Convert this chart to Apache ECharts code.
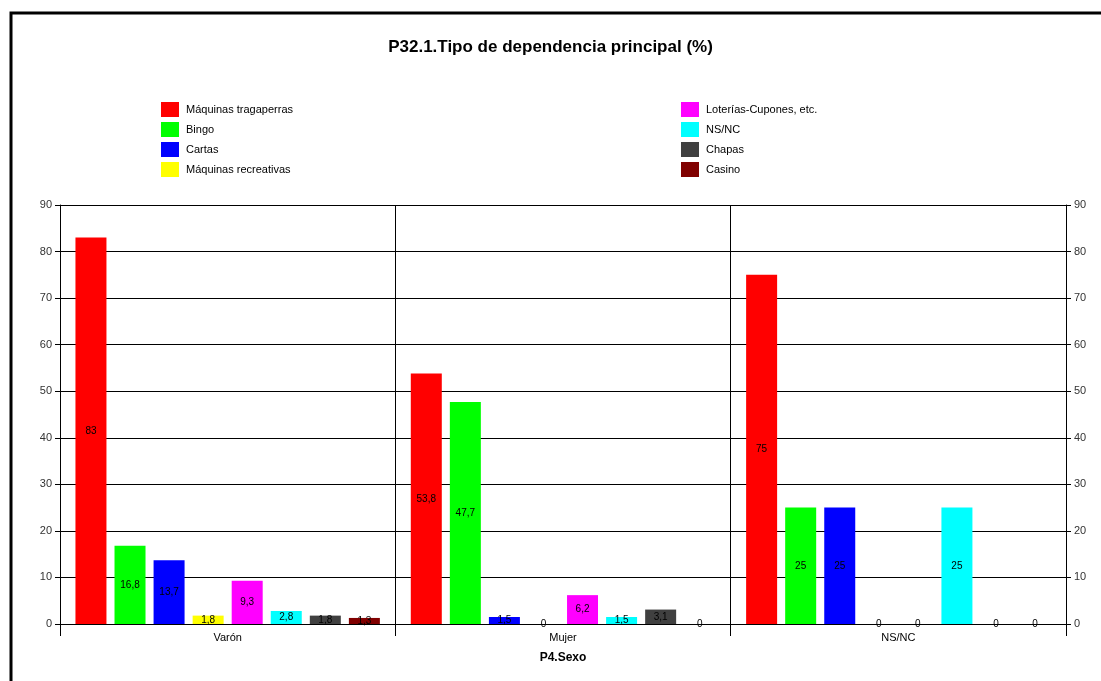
<!DOCTYPE html>
<html>
<head>
<meta charset="utf-8">
<script src="https://cdn.jsdelivr.net/npm/echarts@6/dist/echarts.min.js"></script>
<style>
  html, body { margin: 0; padding: 0; background: #fff; }
  #chart { width: 1101px; height: 681px; }
</style>
</head>
<body>
<div id="chart"></div>
<script>
// categorías (eje X)
const categories = ['Varón', 'Mujer', 'NS/NC'];

// series en el orden de la leyenda
const seriesNames = [
  'Máquinas tragaperras', 'Bingo', 'Cartas', 'Máquinas recreativas',
  'Loterías-Cupones, etc.', 'NS/NC', 'Chapas', 'Casino'
];
const tragaperras = [83, 53.8, 75];
const bingo = [16.8, 47.7, 25];
const cartas = [13.7, 1.5, 25];
const recreativas = [1.8, 0, 0];
const loterias = [9.3, 6.2, 0];
const nsnc = [2.8, 1.5, 25];
const chapas = [1.8, 3.1, 0];
const casino = [1.3, 0, 0];

const yTicks = [0, 10, 20, 30, 40, 50, 60, 70, 80, 90];

const seriesData = [tragaperras, bingo, cartas, recreativas, loterias, nsnc, chapas, casino];
const colors = ['#FF0000', '#00FF00', '#0000FF', '#FFFF00', '#FF00FF', '#00FFFF', '#404040', '#800000'];

const FONT = '"Liberation Sans", Arial, sans-serif';

const chart = echarts.init(document.getElementById('chart'));

const valueAxis = (pos) => ({
  type: 'value',
  position: pos,
  min: yTicks[0],
  max: yTicks[yTicks.length - 1],
  interval: 10,
  axisLine: { show: true, lineStyle: { color: '#000', width: 1 } },
  axisTick: { show: true, length: 5, lineStyle: { color: '#000' } },
  axisLabel: { color: '#333', fontSize: 11, fontFamily: FONT, margin: 8 },
  splitLine: { show: pos === 'left', lineStyle: { color: '#000', width: 1 } }
});

const legendBox = (names, left) => ({
  data: names,
  orient: 'vertical',
  left: left,
  top: 102,
  padding: 0,
  itemWidth: 18,
  itemHeight: 15,
  itemGap: 5,
  icon: 'rect',
  textStyle: { fontFamily: FONT, fontSize: 11, color: '#000', padding: [0, 0, 0, 2] }
});

const option = {
  animation: false,
  backgroundColor: '#fff',
  color: colors,
  title: {
    text: 'P32.1.Tipo de dependencia principal (%)',
    left: 'center',
    top: 34,
    textStyle: { fontFamily: FONT, fontSize: 17, fontWeight: 'bold', color: '#000' }
  },
  legend: [legendBox(seriesNames.slice(0, 4), 161), legendBox(seriesNames.slice(4), 681)],
  graphic: [
    {
      type: 'rect',
      shape: { x: 11, y: 13, width: 1200, height: 800 },
      style: { fill: 'none', stroke: '#000', lineWidth: 3 },
      silent: true
    }
  ],
  grid: { left: 60, right: 35, top: 205, bottom: 57 },
  xAxis: {
    type: 'category',
    data: categories,
    name: 'P4.Sexo',
    nameLocation: 'middle',
    nameGap: 28,
    nameTextStyle: { fontFamily: FONT, fontSize: 12, fontWeight: 'bold', color: '#000' },
    axisLine: { lineStyle: { color: '#000', width: 1 } },
    axisTick: { show: true, length: 12, lineStyle: { color: '#000' } },
    axisLabel: { color: '#000', fontSize: 11, fontFamily: FONT, margin: 8 },
    splitLine: { show: true, lineStyle: { color: '#000', width: 1 } }
  },
  yAxis: [valueAxis('left'), valueAxis('right')],
  series: seriesNames.map((name, i) => ({
    name: name,
    type: 'bar',
    data: seriesData[i],
    barWidth: 31,
    barGap: '26%',
    itemStyle: { color: colors[i] },
    label: {
      show: true,
      position: 'inside',
      color: '#000',
      fontSize: 10,
      fontFamily: FONT,
      formatter: (p) => String(p.value).replace('.', ',')
    }
  }))
};

chart.setOption(option);
</script>
</body>
</html>
